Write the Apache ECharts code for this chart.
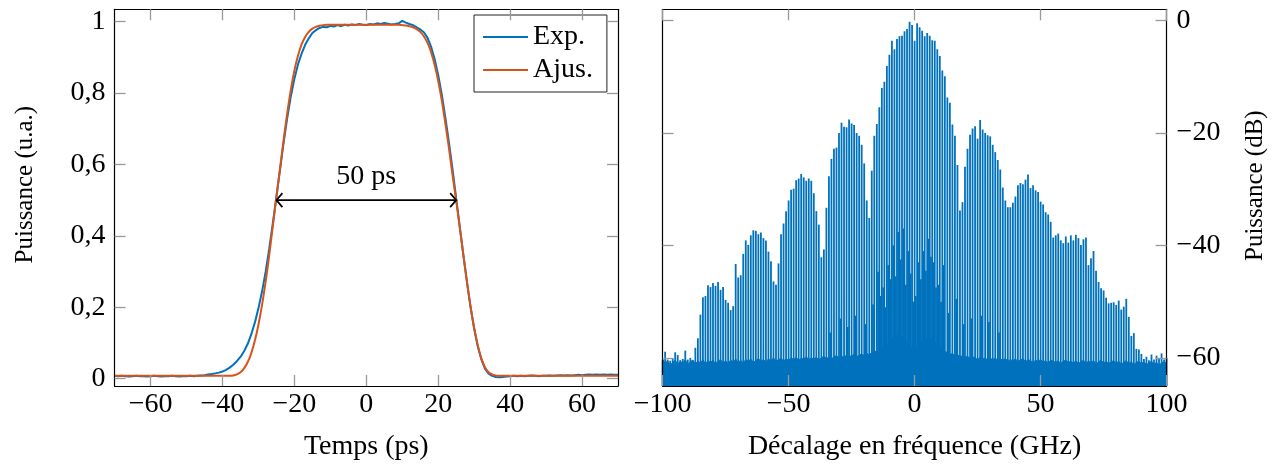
<!DOCTYPE html>
<html><head><meta charset="utf-8">
<script src="https://cdn.jsdelivr.net/npm/echarts@6/dist/echarts.min.js"></script>
<style>html,body{margin:0;padding:0;background:#fff}#c{width:1275px;height:466px}</style>
</head><body><div id="c"></div>
<script>
// ---------- Left panel: temporal intensity ----------
const timeStartPs = -70;   // first sample (ps), 1 ps step
const expPower = [
 0.008,0.007,0.008,0.007,0.006,0.007,0.008,0.007,0.007,0.006,
 0.007,0.008,0.007,0.006,0.007,0.007,0.008,0.007,0.006,0.007,
 0.007,0.008,0.007,0.008,0.009,0.010,0.012,0.013,0.015,0.017,
 0.020,0.025,0.031,0.039,0.049,0.061,0.077,0.097,0.124,0.157,
 0.197,0.244,0.299,0.364,0.435,0.510,0.585,0.660,0.730,0.790,
 0.840,0.880,0.910,0.935,0.953,0.968,0.976,0.982,0.985,0.984,
 0.988,0.986,0.990,0.987,0.991,0.989,0.992,0.990,0.993,0.991,
 0.990,0.993,0.992,0.995,0.993,0.996,0.994,0.992,0.993,0.995,
 1.002,0.997,0.993,0.990,0.984,0.978,0.970,0.955,0.930,0.895,
 0.850,0.795,0.730,0.660,0.585,0.505,0.425,0.345,0.270,0.200,
 0.140,0.090,0.054,0.028,0.014,0.008,0.005,0.004,0.005,0.006,
 0.007,0.008,0.007,0.008,0.007,0.008,0.009,0.008,0.007,0.008,
 0.008,0.009,0.008,0.009,0.010,0.009,0.010,0.009,0.010,0.011,
 0.010,0.011,0.012,0.011,0.012,0.011,0.012,0.011,0.012,0.011,
 0.011
];
const fitPower = [
 0.008,0.008,0.008,0.008,0.008,0.008,0.008,0.008,0.008,0.008,
 0.008,0.008,0.008,0.008,0.008,0.008,0.008,0.008,0.008,0.008,
 0.008,0.008,0.008,0.008,0.008,0.008,0.008,0.008,0.008,0.008,
 0.008,0.008,0.008,0.009,0.012,0.018,0.029,0.046,0.071,0.106,
 0.151,0.206,0.271,0.346,0.427,0.508,0.588,0.668,0.743,0.808,
 0.863,0.904,0.936,0.957,0.971,0.980,0.985,0.988,0.990,0.991,
 0.991,0.991,0.991,0.991,0.991,0.991,0.991,0.991,0.991,0.991,
 0.991,0.991,0.991,0.991,0.991,0.991,0.991,0.991,0.991,0.991,
 0.990,0.989,0.987,0.984,0.979,0.971,0.959,0.941,0.915,0.879,
 0.834,0.779,0.714,0.644,0.569,0.499,0.423,0.347,0.272,0.202,
 0.142,0.094,0.057,0.032,0.018,0.012,0.009,0.008,0.008,0.008,
 0.008,0.008,0.008,0.008,0.008,0.008,0.008,0.008,0.008,0.008,
 0.008,0.008,0.008,0.008,0.008,0.008,0.008,0.008,0.008,0.008,
 0.008,0.008,0.008,0.008,0.008,0.008,0.008,0.008,0.008,0.008,
 0.008
];
const timeTicks = [-60,-40,-20,0,20,40,60];
const powerTicks = [0,0.2,0.4,0.6,0.8,1];
const fwhmArrow = [[-25, 25, 0.5, 0.565]]; // from, to, level, label level
const fwhmLabel = '50 ps';

// ---------- Right panel: spectrum (dB) ----------
const freqStartGHz = -100; // comb lines every 1 GHz
const combPeakDb = [
 -60.5,-58.9,-60.3,-60.5,-60.1,-59.0,-59.5,-60.4,-60.2,-58.7,
 -60.3,-60.0,-60.4,-58.2,-56.5,-52.3,-49.2,-49.0,-47.1,-47.4,
 -46.7,-47.2,-46.5,-47.9,-47.4,-49.7,-50.2,-51.5,-50.8,-43.3,
 -45.7,-45.3,-41.5,-39.1,-39.9,-38.2,-37.3,-37.4,-38.0,-37.7,
 -38.7,-39.1,-41.1,-42.8,-46.4,-47.0,-43.2,-38.0,-36.1,-33.9,
 -32.0,-30.1,-29.9,-28.4,-28.1,-27.3,-27.9,-28.5,-28.1,-28.5,
 -30.7,-33.9,-36.3,-42.1,-40.7,-33.3,-27.7,-24.6,-22.8,-22.6,
 -20.0,-18.2,-18.9,-19.0,-17.6,-18.3,-18.6,-20.0,-20.5,-22.1,
 -25.4,-32.0,-35.1,-26.7,-20.5,-18.4,-15.4,-12.0,-10.9,-8.1,
 -6.1,-3.6,-5.1,-3.3,-2.8,-2.7,-1.9,-1.5,-0.2,-0.8,
 -3.6,-0.5,-1.2,-1.8,-2.8,-2.2,-2.7,-3.5,-3.6,-5.1,
 -6.3,-8.9,-9.9,-13.7,-14.6,-18.5,-20.5,-25.7,-33.8,-32.3,
 -26.0,-22.8,-20.3,-19.2,-18.8,-21.0,-17.7,-19.4,-20.0,-20.4,
 -20.6,-22.1,-23.4,-24.8,-26.5,-29.7,-32.0,-33.2,-33.2,-32.4,
 -31.3,-29.3,-28.9,-29.1,-28.3,-27.4,-29.8,-29.3,-30.2,-30.5,
 -32.2,-32.7,-34.1,-34.5,-35.8,-38.6,-38.2,-37.9,-39.1,-39.6,
 -38.4,-39.5,-38.2,-39.1,-38.1,-38.7,-39.9,-38.9,-38.6,-43.5,
 -42.3,-41.0,-44.5,-46.5,-47.6,-48.0,-49.3,-50.3,-50.2,-50.1,
 -50.6,-49.8,-51.4,-50.9,-49.5,-52.7,-56.1,-55.6,-58.4,-58.5,
 -59.3,-60.2,-59.8,-60.4,-59.4,-60.3,-59.6,-60.1,-59.2,-60.3,-60.0
];
const noiseFloorDb = [
 -60.2,-61.0,-60.5,-61.3,-60.8,-60.4,-61.1,-60.6,-60.9,-60.3,
 -61.2,-60.7,-60.4,-61.0,-60.6,-60.9,-60.3,-61.1,-60.5,-60.8,
 -60.4,-61.0,-60.6,-60.3,-60.9,-60.5,-61.0,-60.4,-60.7,-60.2,
 -60.8,-60.4,-60.9,-60.3,-60.6,-60.2,-60.8,-60.5,-60.1,-60.6,
 -60.3,-60.7,-60.2,-60.5,-60.0,-60.6,-60.3,-60.1,-60.5,-60.2,
 -60.4,-60.0,-60.3,-59.9,-60.4,-60.1,-60.2,-59.8,-60.3,-60.0,
 -60.2,-59.9,-60.3,-60.0,-59.7,-60.1,-59.9,-60.2,-59.8,-59.6,
 -60.0,-59.7,-59.9,-59.5,-59.8,-59.6,-59.4,-59.8,-59.5,-59.3,
 -59.6,-59.2,-59.5,-59.0,-59.1,-58.6,-58.9,-58.3,-58.0,-57.6,
 -57.2,-56.6,-56.2,-55.9,-56.4,-56.1,-56.8,-57.3,-57.8,-58.2,
 -58.4,-57.9,-57.4,-57.0,-56.7,-56.5,-56.9,-56.6,-57.1,-57.5,
 -58.0,-58.3,-58.8,-59.1,-59.4,-59.2,-59.6,-59.4,-59.8,-59.6,
 -59.9,-59.7,-60.1,-59.8,-60.0,-60.3,-59.9,-60.2,-60.0,-60.4,
 -60.1,-60.3,-60.0,-60.5,-60.2,-60.4,-60.1,-60.6,-60.3,-60.5,
 -60.2,-60.6,-60.4,-60.1,-60.7,-60.3,-60.5,-60.8,-60.4,-60.6,
 -60.3,-60.7,-60.5,-60.9,-60.4,-60.6,-60.8,-60.5,-61.0,-60.6,
 -60.4,-60.8,-60.6,-60.9,-60.5,-61.0,-60.7,-60.4,-60.9,-60.6,
 -60.8,-60.5,-61.1,-60.7,-60.4,-60.9,-60.6,-61.0,-60.7,-60.5,
 -60.9,-60.6,-61.1,-60.8,-60.5,-61.0,-60.7,-61.2,-60.8,-60.6,
 -61.0,-60.7,-61.2,-60.9,-60.6,-61.1,-60.8,-61.3,-60.9,-60.7,-61.0
];
const subLineFreq = [-33.5,-29.5,-26.5,-23.5,-19.5,-16.5,-14.5,-13.5,-12.5,-11.5,-10.5,-9.5,-8.5,-7.5,-6.5,-5.5,-4.5,-3.5,-2.5,-1.5,-0.5,0.5,1.5,2.5,3.5,4.5,5.5,6.5,7.5,8.5,9.5,10.5,11.5,13.5,16.5,19.5,22.5,26.5,29.5,33.5];
const subLineDb = [-55.5,-53.0,-54.5,-52.5,-54.0,-50.5,-44.7,-49.0,-47.5,-51.0,-43.5,-46.0,-40.0,-45.5,-37.6,-42.5,-37.0,-47.0,-41.0,-45.0,-50.0,-49.0,-43.0,-46.0,-41.0,-44.5,-38.8,-42.0,-43.0,-47.5,-47.0,-50.0,-43.5,-52.0,-49.5,-54.0,-53.0,-52.5,-53.6,-55.5];
const dbTicks = [-60,-40,-20,0];

// ---------- build ----------
const FONT = '"Liberation Serif","Times New Roman",serif';
const BLUE = '#0072BD', ORANGE = '#D95319';
const FS = 28;      // tick labels, x titles, legend
const FS_Y = 25;    // rotated y titles
const DB_MIN = -65, DB_MAX = 2;
const P_MIN = -0.0204, P_MAX = 1.0343;
const minus = v => (v < 0 ? '\u2212' + Math.abs(v) : String(v));

const expData = expPower.map((v, i) => [timeStartPs + i, v]);
const fitData = fitPower.map((v, i) => [timeStartPs + i, v]);
const combData = combPeakDb.map((v, i) => [freqStartGHz + i, v]);
const floorData = noiseFloorDb.map((v, i) => [freqStartGHz + i, v]);
const subData = subLineFreq.map((f, i) => [f, subLineDb[i]]);

const tickStyle = {show: true, inside: true, length: 11, lineStyle: {color: '#999', width: 1.3}};
const lineStyleAxis = {show: true, onZero: false, lineStyle: {color: '#000', width: 1.2}};
const labelStyle = {color: '#000', fontSize: FS, fontFamily: FONT};

function frameAxis(extra) {
  return Object.assign({type: 'value', z: 5, splitLine: {show: false}, axisLine: lineStyleAxis}, extra);
}

const combRender = function (params, api) {
  const top = api.coord([api.value(0), api.value(1)]);
  const bot = api.coord([api.value(0), DB_MIN]);
  return {type: 'line', shape: {x1: top[0], y1: top[1], x2: bot[0], y2: bot[1]},
          style: {stroke: BLUE, lineWidth: 1.8}};
};

const option = {
  animation: false,
  backgroundColor: '#fff',
  grid: [
    {left: 114.6, top: 9.3, width: 503.4, height: 378},
    {left: 662.6, top: 9.3, width: 504, height: 378}
  ],
  legend: {
    data: ['Exp.', 'Ajus.'], orient: 'vertical', left: 474, top: 15,
    icon: 'rect', itemWidth: 45, itemHeight: 2.2, itemGap: 5,
    padding: [8, 14, 8, 9], borderColor: '#222', borderWidth: 1, borderRadius: 0,
    backgroundColor: '#fff',
    textStyle: {fontSize: FS, fontFamily: FONT, color: '#000'}
  },
  xAxis: [
    frameAxis({gridIndex: 0, position: 'bottom', min: -70, max: 70,
      axisTick: Object.assign({customValues: timeTicks}, tickStyle),
      axisLabel: Object.assign({customValues: timeTicks, margin: 5, formatter: minus}, labelStyle),
      name: 'Temps (ps)', nameLocation: 'middle', nameGap: 47,
      nameTextStyle: {fontSize: FS, fontFamily: FONT, color: '#000'}}),
    frameAxis({gridIndex: 0, position: 'top', min: -70, max: 70,
      axisTick: Object.assign({customValues: timeTicks}, tickStyle),
      axisLabel: {show: false}}),
    frameAxis({gridIndex: 1, position: 'bottom', min: -100, max: 100, interval: 50,
      axisTick: tickStyle,
      axisLabel: Object.assign({margin: 5, formatter: minus}, labelStyle),
      name: 'Décalage en fréquence (GHz)', nameLocation: 'middle', nameGap: 47,
      nameTextStyle: {fontSize: FS, fontFamily: FONT, color: '#000'}}),
    frameAxis({gridIndex: 1, position: 'top', min: -100, max: 100, interval: 50,
      axisTick: tickStyle, axisLabel: {show: false}})
  ],
  yAxis: [
    frameAxis({gridIndex: 0, position: 'left', min: P_MIN, max: P_MAX,
      axisTick: Object.assign({customValues: powerTicks}, tickStyle),
      axisLabel: Object.assign({customValues: powerTicks, margin: 9,
        formatter: v => String(Math.round(v * 10) / 10).replace('.', ',')}, labelStyle),
      name: 'Puissance (u.a.)', nameLocation: 'middle', nameRotate: 90, nameGap: 77,
      nameTextStyle: {fontSize: FS_Y, fontFamily: FONT, color: '#000', padding: [0, 0, 0, 26]}}),
    frameAxis({gridIndex: 0, position: 'right', min: P_MIN, max: P_MAX,
      axisTick: Object.assign({customValues: powerTicks}, tickStyle),
      axisLabel: {show: false}}),
    frameAxis({gridIndex: 1, position: 'right', min: DB_MIN, max: DB_MAX,
      axisTick: Object.assign({customValues: dbTicks}, tickStyle),
      axisLabel: Object.assign({customValues: dbTicks, margin: 10, formatter: minus}, labelStyle),
      name: 'Puissance (dB)', nameLocation: 'middle', nameRotate: 90, nameGap: 76,
      nameTextStyle: {fontSize: FS_Y, fontFamily: FONT, color: '#000', padding: [0, 0, 0, 24]}}),
    frameAxis({gridIndex: 1, position: 'left', min: DB_MIN, max: DB_MAX,
      axisTick: Object.assign({customValues: dbTicks}, tickStyle),
      axisLabel: {show: false}})
  ],
  series: [
    {name: 'Exp.', type: 'line', xAxisIndex: 0, yAxisIndex: 0, data: expData,
      symbol: 'none', color: BLUE, lineStyle: {color: BLUE, width: 2}, z: 2},
    {name: 'Ajus.', type: 'line', xAxisIndex: 0, yAxisIndex: 0, data: fitData,
      symbol: 'none', smooth: 0.3, color: ORANGE, lineStyle: {color: ORANGE, width: 2}, z: 3},
    {name: 'fwhm', type: 'custom', xAxisIndex: 0, yAxisIndex: 0, data: fwhmArrow, silent: true, z: 4,
      renderItem: function (params, api) {
        const a = api.coord([api.value(0), api.value(2)]);
        const b = api.coord([api.value(1), api.value(2)]);
        const t = api.coord([(api.value(0) + api.value(1)) / 2, api.value(3)]);
        const h = 7, d = 6;
        const st = {stroke: '#000', lineWidth: 1.7, fill: null};
        return {type: 'group', children: [
          {type: 'line', shape: {x1: a[0], y1: a[1], x2: b[0], y2: b[1]}, style: st},
          {type: 'polyline', shape: {points: [[a[0] + d, a[1] - h], [a[0], a[1]], [a[0] + d, a[1] + h]]}, style: st},
          {type: 'polyline', shape: {points: [[b[0] - d, b[1] - h], [b[0], b[1]], [b[0] - d, b[1] + h]]}, style: st},
          {type: 'text', style: {x: t[0], y: t[1], text: fwhmLabel, align: 'center', verticalAlign: 'middle',
            fontSize: FS, fontFamily: FONT, fill: '#000'}}
        ]};
      }},
    {name: 'floor', type: 'line', xAxisIndex: 2, yAxisIndex: 2, data: floorData, symbol: 'none',
      lineStyle: {color: BLUE, width: 1}, areaStyle: {color: BLUE, opacity: 1, origin: 'start'}, z: 2},
    {name: 'sub', type: 'custom', xAxisIndex: 2, yAxisIndex: 2, data: subData, silent: true, z: 2,
      renderItem: combRender},
    {name: 'comb', type: 'custom', xAxisIndex: 2, yAxisIndex: 2, data: combData, silent: true, z: 3,
      renderItem: combRender}
  ]
};
const chart = echarts.init(document.getElementById('c'), null, {renderer: 'canvas'});
chart.setOption(option);
</script></body></html>
